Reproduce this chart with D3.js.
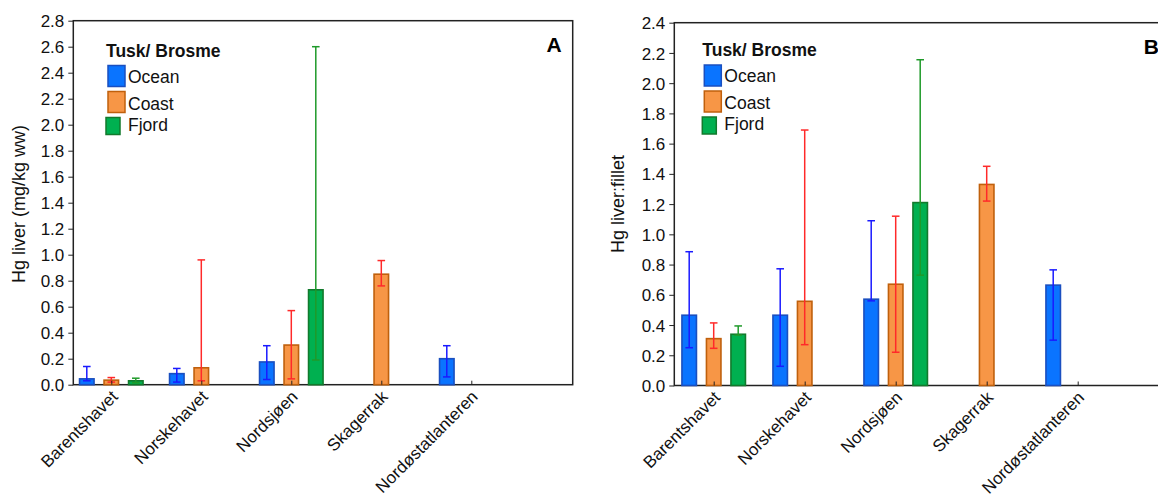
<!DOCTYPE html>
<html lang="no">
<head>
<meta charset="utf-8">
<title>Hg lever - brosme</title>
<script src="https://cdn.jsdelivr.net/npm/d3@7"></script>
<style>
  body { margin: 0; background: #fff; }
  svg { display: block; font-family: Arial, "Liberation Sans", sans-serif; }
</style>
</head>
<body>
<svg id="chart" width="1158" height="499"></svg>
<script>
// categories and series
var categories = ["Barentshavet", "Norskehavet", "Nordsjøen", "Skagerrak", "Nordøstatlanteren"];
var seriesNames = ["Ocean", "Coast", "Fjord"];

// [mean, lower, upper] per category, null = no data
// panel A: Hg liver (mg/kg ww)
var liverOcean = [[0.045, 0.03, 0.14], [0.085, 0.02, 0.125], [0.175, 0.04, 0.30], null, [0.20, 0.06, 0.30]];
var liverCoast = [[0.035, 0.02, 0.055], [0.13, 0.03, 0.96], [0.305, 0.045, 0.57], [0.85, 0.76, 0.955], null];
var liverFjord = [[0.03, 0.015, 0.05], null, [0.73, 0.19, 2.60], null, null];

// panel B: Hg liver:fillet
var ratioOcean = [[0.465, 0.25, 0.885], [0.465, 0.127, 0.772], [0.571, 0.56, 1.09], null, [0.664, 0.30, 0.765]];
var ratioCoast = [[0.31, 0.246, 0.414], [0.557, 0.27, 1.69], [0.67, 0.22, 1.12], [1.33, 1.22, 1.45], null];
var ratioFjord = [[0.339, 0.333, 0.394], null, [1.21, 0.73, 2.155], null, null];

var fills   = ["#0a74ff", "#f79646", "#00b050"];
var strokes = ["#1a4fc0", "#c0600c", "#127a2c"];
var errCols = ["#1a1aff", "#ff2a2a", "#1f9a2a"];

var svg = d3.select("#chart");

function rows(s) {
  return s.map(function(v, k) { return v ? {cat: categories[k], m: v[0], lo: v[1], hi: v[2]} : null; })
          .filter(function(v) { return v; });
}

function drawPanel(p) {
  var g = svg.append("g");
  var y = d3.scaleLinear().domain([0, p.ymax]).range([p.bottom, p.top]);
  var x = d3.scalePoint().domain(categories)
      .range([p.left + p.first, p.left + p.first + 4 * p.step]);
  var off = [-24.5, 0, 24.5], bw = 14.5;

  // frame
  g.append("rect")
    .attr("x", p.left).attr("y", p.top)
    .attr("width", p.right - p.left).attr("height", p.bottom - p.top)
    .attr("fill", "none").attr("stroke", "#222").attr("stroke-width", 1.5);

  // bars
  p.series.forEach(function(s, i) {
    g.selectAll(".bar" + i).data(rows(s)).enter().append("rect")
      .attr("x", function(v) { return x(v.cat) + off[i] - bw / 2; })
      .attr("y", function(v) { return y(v.m); })
      .attr("width", bw)
      .attr("height", function(v) { return y(0) - y(v.m); })
      .attr("fill", fills[i]).attr("stroke", strokes[i]).attr("stroke-width", 1.6);
  });

  // error bars
  p.series.forEach(function(s, i) {
    var eg = g.selectAll(".err" + i).data(rows(s)).enter().append("g")
      .attr("stroke", errCols[i]).attr("stroke-width", 1.5);
    eg.append("line")
      .attr("x1", function(v) { return x(v.cat) + off[i]; })
      .attr("x2", function(v) { return x(v.cat) + off[i]; })
      .attr("y1", function(v) { return y(v.lo); })
      .attr("y2", function(v) { return y(v.hi); });
    ["lo", "hi"].forEach(function(key) {
      eg.append("line")
        .attr("x1", function(v) { return x(v.cat) + off[i] - 3.8; })
        .attr("x2", function(v) { return x(v.cat) + off[i] + 3.8; })
        .attr("y1", function(v) { return y(v[key]); })
        .attr("y2", function(v) { return y(v[key]); });
    });
  });

  // y axis
  var yAxis = g.append("g")
    .attr("transform", "translate(" + p.left + ",0)")
    .call(d3.axisLeft(y).tickValues(d3.range(0, p.ymax + 0.01, 0.2))
      .tickFormat(d3.format(".1f")).tickSize(5).tickPadding(4));
  yAxis.select(".domain").remove();
  yAxis.selectAll("line").attr("stroke", "#222");
  yAxis.selectAll("text").attr("fill", "#111").style("font-size", "17px").attr("dy", "0.36em");

  // x axis, ticks pointing in
  var xAxis = g.append("g")
    .attr("transform", "translate(0," + p.bottom + ")")
    .call(d3.axisBottom(x).tickSizeInner(-4).tickSizeOuter(0));
  xAxis.select(".domain").remove();
  xAxis.selectAll("line").attr("stroke", "#222");
  xAxis.selectAll("text")
    .attr("y", 0).attr("dy", 0).attr("fill", "#111")
    .style("font-size", "17px").style("text-anchor", "end")
    .attr("transform", "translate(7,13) rotate(-45)");

  // y title
  g.append("text")
    .attr("transform", "translate(" + p.ytitleX + "," + p.ytitleY + ") rotate(-90)")
    .attr("text-anchor", "middle").attr("dy", "0.35em")
    .style("font-size", "18px").attr("fill", "#111")
    .text(p.ytitle);

  // panel letter
  g.append("text")
    .attr("x", p.right - 11).attr("y", p.top + 31)
    .attr("text-anchor", "end")
    .style("font-size", "21px").style("font-weight", "bold")
    .text(p.id);

  // legend
  var lg = g.append("g").attr("transform", "translate(" + p.legX + "," + p.legY + ")");
  lg.append("text").attr("x", 0).attr("y", 0)
    .style("font-size", "17.5px").style("font-weight", "bold").attr("fill", "#111")
    .text("Tusk/ Brosme");
  var boxes = [[2, 9, 17, 21], [2, 35, 17, 21], [0, 61, 14, 17]];
  var labelsY = [26, 53, 74];
  seriesNames.forEach(function(n, i) {
    var b = boxes[i];
    lg.append("rect").attr("x", b[0]).attr("y", b[1]).attr("width", b[2]).attr("height", b[3])
      .attr("fill", fills[i]).attr("stroke", strokes[i]).attr("stroke-width", 1.5);
    lg.append("text").attr("x", 22).attr("y", labelsY[i])
      .style("font-size", "17.5px").attr("fill", "#111").text(n);
  });
}

drawPanel({
  id: "A", left: 73.3, right: 572.7, top: 20.7, bottom: 384.7, ymax: 2.8,
  first: 38, step: 90, series: [liverOcean, liverCoast, liverFjord],
  ytitle: "Hg liver (mg/kg ww)", ytitleX: 18.5, ytitleY: 204,
  legX: 106, legY: 56.5
});
drawPanel({
  id: "B", left: 674.3, right: 1170, top: 22.7, bottom: 385.5, ymax: 2.4,
  first: 39.4, step: 91, series: [ratioOcean, ratioCoast, ratioFjord],
  ytitle: "Hg liver:fillet", ytitleX: 618, ytitleY: 204,
  legX: 702.3, legY: 56
});
</script>
</body>
</html>
